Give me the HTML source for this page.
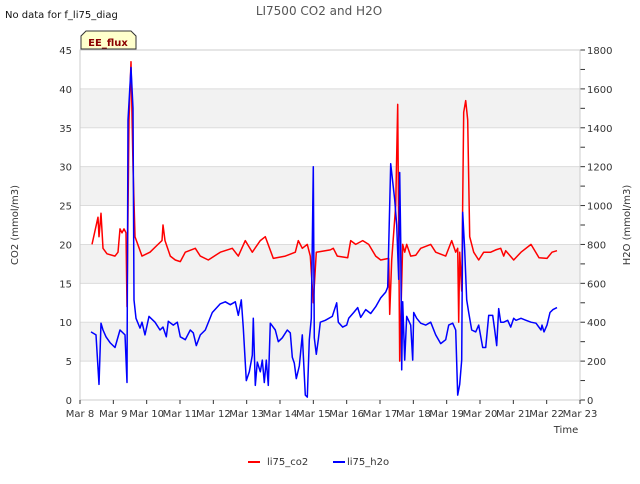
<!DOCTYPE html>
<html><head><meta charset="utf-8"><style>
body{margin:0;background:#fff;font-family:"DejaVu Sans",sans-serif}
</style></head><body>
<svg width="640" height="480" xmlns="http://www.w3.org/2000/svg" font-family="DejaVu Sans, sans-serif">
<g id="root"></g>
</svg>
<script>
const leftTicks=[0,5,10,15,20,25,30,35,40,45];
const rightTicks=[0,200,400,600,800,1000,1200,1400,1600,1800];
const xTickLabels=["Mar 8","Mar 9","Mar 10","Mar 11","Mar 12","Mar 13","Mar 14","Mar 15","Mar 16","Mar 17","Mar 18","Mar 19","Mar 20","Mar 21","Mar 22","Mar 23"];
// [day offset from Mar 8, CO2 mmol/m3]
const co2Series=[[0.36,20],[0.54,23.5],[0.57,21],[0.63,24],[0.69,19.5],[0.81,18.8],[1.05,18.5],[1.14,19],[1.20,22],[1.26,21.5],[1.32,22],[1.38,21.5],[1.41,12],[1.47,36],[1.53,43.5],[1.59,30],[1.65,21],[1.86,18.5],[2.10,19],[2.34,20],[2.46,20.5],[2.49,22.5],[2.55,20.5],[2.71,18.5],[2.86,18],[3.01,17.8],[3.16,19],[3.46,19.5],[3.61,18.5],[3.85,18],[4.21,19],[4.57,19.5],[4.75,18.5],[4.96,20.5],[5.17,19],[5.41,20.5],[5.56,21],[5.80,18.2],[6.16,18.5],[6.46,19],[6.55,20.5],[6.67,19.5],[6.82,20],[6.91,18.5],[7.00,12.5],[7.09,19],[7.51,19.3],[7.60,19.5],[7.72,18.5],[8.03,18.3],[8.12,20.5],[8.27,20],[8.48,20.5],[8.66,20],[8.87,18.5],[9.02,18],[9.26,18.2],[9.29,11],[9.35,18],[9.47,25],[9.53,38],[9.59,5],[9.68,20],[9.74,19],[9.80,20],[9.92,18.5],[10.07,18.6],[10.22,19.5],[10.52,20],[10.67,19],[10.97,18.5],[11.15,20.5],[11.27,19],[11.33,19.5],[11.36,10],[11.39,19],[11.45,14],[11.51,37],[11.57,38.5],[11.63,36],[11.69,21],[11.81,19],[11.96,18],[12.11,19],[12.32,19],[12.47,19.3],[12.62,19.5],[12.71,18.5],[12.77,19.2],[13.01,18],[13.23,19],[13.53,20],[13.77,18.3],[14.01,18.2],[14.16,19],[14.31,19.2]];
// [day offset from Mar 8, H2O mmol/m3]
const h2oSeries=[[0.33,350],[0.48,335],[0.57,80],[0.63,395],[0.69,360],[0.78,325],[0.90,295],[1.05,270],[1.20,360],[1.35,335],[1.41,90],[1.44,1440],[1.53,1710],[1.59,1500],[1.62,515],[1.68,420],[1.80,370],[1.86,400],[1.95,335],[2.07,430],[2.25,400],[2.40,360],[2.49,375],[2.59,325],[2.65,405],[2.80,385],[2.92,400],[3.01,325],[3.16,310],[3.31,360],[3.40,345],[3.49,280],[3.61,335],[3.76,360],[3.97,450],[4.21,495],[4.36,505],[4.51,490],[4.66,505],[4.75,435],[4.84,515],[4.90,370],[4.99,100],[5.08,145],[5.17,230],[5.20,420],[5.26,75],[5.32,195],[5.41,145],[5.47,205],[5.53,90],[5.59,205],[5.65,75],[5.71,395],[5.86,360],[5.95,300],[6.07,320],[6.22,360],[6.31,345],[6.37,220],[6.43,190],[6.49,110],[6.58,175],[6.67,335],[6.76,25],[6.82,15],[6.88,310],[6.94,420],[7.00,1200],[7.03,320],[7.09,235],[7.15,310],[7.21,400],[7.36,410],[7.57,430],[7.70,500],[7.75,400],[7.88,375],[8.00,385],[8.06,420],[8.21,450],[8.33,475],[8.42,425],[8.57,465],[8.72,445],[8.87,480],[9.02,525],[9.17,555],[9.23,580],[9.32,1215],[9.44,1030],[9.50,900],[9.56,620],[9.59,1170],[9.62,825],[9.65,155],[9.68,505],[9.74,205],[9.80,430],[9.92,385],[9.98,205],[10.01,450],[10.10,420],[10.22,395],[10.37,385],[10.52,400],[10.67,335],[10.82,290],[10.97,310],[11.06,385],[11.18,395],[11.27,360],[11.33,25],[11.39,80],[11.45,205],[11.48,965],[11.54,770],[11.60,515],[11.66,450],[11.75,360],[11.87,350],[11.96,385],[12.08,270],[12.17,270],[12.26,435],[12.38,435],[12.44,360],[12.50,280],[12.56,470],[12.62,400],[12.71,400],[12.83,410],[12.92,375],[13.01,420],[13.08,410],[13.23,420],[13.38,410],[13.53,400],[13.68,395],[13.83,360],[13.86,385],[13.92,350],[14.01,385],[14.10,450],[14.19,465],[14.31,475]];

const L=80,R=580,T=50,B=400,NS="http://www.w3.org/2000/svg";
const xS=d=>L+(R-L)*d/15, yL=v=>B-(B-T)*v/45, yR=v=>B-(B-T)*v/1800;
const root=document.getElementById('root');
function mk(tag,attrs,parent){const e=document.createElementNS(NS,tag);for(const k in attrs)e.setAttribute(k,attrs[k]);(parent||root).appendChild(e);return e;}
function txt(s,attrs){const e=mk('text',attrs);e.textContent=s;return e;}
for(let v=5;v<45;v+=10){const r=mk('rect',{x:L,y:yL(v+5),width:R-L,height:yL(v)-yL(v+5),fill:'#f2f2f2'});

}
leftTicks.forEach(v=>{const l=mk('line',{x1:L,x2:R,y1:yL(v),y2:yL(v),stroke:'#dcdcdc','stroke-width':1});


const t=txt(v,{x:72,y:yL(v)+4,'text-anchor':'end','font-size':10,fill:'#333'});

});
rightTicks.forEach(v=>{const t=txt(v,{x:587,y:yR(v)+4,'font-size':10,fill:'#333'});

});
for(let v=0;v<=1800;v+=100){const l=mk('line',{x1:R,x2:R+5,y1:yR(v),y2:yR(v),stroke:'#333','stroke-width':1});

}
const fr=mk('rect',{x:L,y:T,width:R-L,height:B-T,fill:'none',stroke:'#ccc'});


xTickLabels.forEach((s,i)=>{const l=mk('line',{x1:xS(i),x2:xS(i),y1:B,y2:B+4,stroke:'#333'});


const t=txt(s,{x:xS(i),y:417,'text-anchor':'middle','font-size':10,fill:'#333'});

});
function line(series,ys,color,name){const p=mk('polyline',{points:series.map(d=>xS(d[0]).toFixed(1)+','+ys(d[1]).toFixed(1)).join(' '),fill:'none',stroke:color,'stroke-width':1.5,'stroke-linejoin':'round'});

}
line(co2Series,yL,'#ff0000','co2-line');
line(h2oSeries,yR,'#0000ff','h2o-line');
</script>
<svg style="position:absolute;left:0;top:0" width="640" height="480" xmlns="http://www.w3.org/2000/svg" font-family="DejaVu Sans, sans-serif">
<text x="319" y="15" text-anchor="middle" font-size="12" fill="#555">LI7500 CO2 and H2O</text>
<text x="5" y="18" font-size="10" fill="#111">No data for f_li75_diag</text>
<g>
<path d="M81,49 L81,36 L86,31 L131,31 L136,36 L136,49 Z" fill="#ffffcc" stroke="#333"/>
<text x="108" y="46" text-anchor="middle" font-size="10" font-weight="bold" fill="#8b0000">EE_flux</text></g>
<text transform="translate(18,225) rotate(-90)" text-anchor="middle" font-size="10" fill="#333">CO2 (mmol/m3)</text>
<text transform="translate(630,225) rotate(-90)" text-anchor="middle" font-size="10" fill="#333">H2O (mmol/m3)</text>
<text x="566" y="433" text-anchor="middle" font-size="10" fill="#333">Time</text>
<g><line x1="248" x2="260" y1="462" y2="462" stroke="#f00" stroke-width="2"/><text x="267" y="465" font-size="10" fill="#333">li75_co2</text></g>
<g><line x1="333" x2="345" y1="462" y2="462" stroke="#00f" stroke-width="2"/><text x="347" y="465" font-size="10" fill="#333">li75_h2o</text></g>
</svg>
</body></html>
